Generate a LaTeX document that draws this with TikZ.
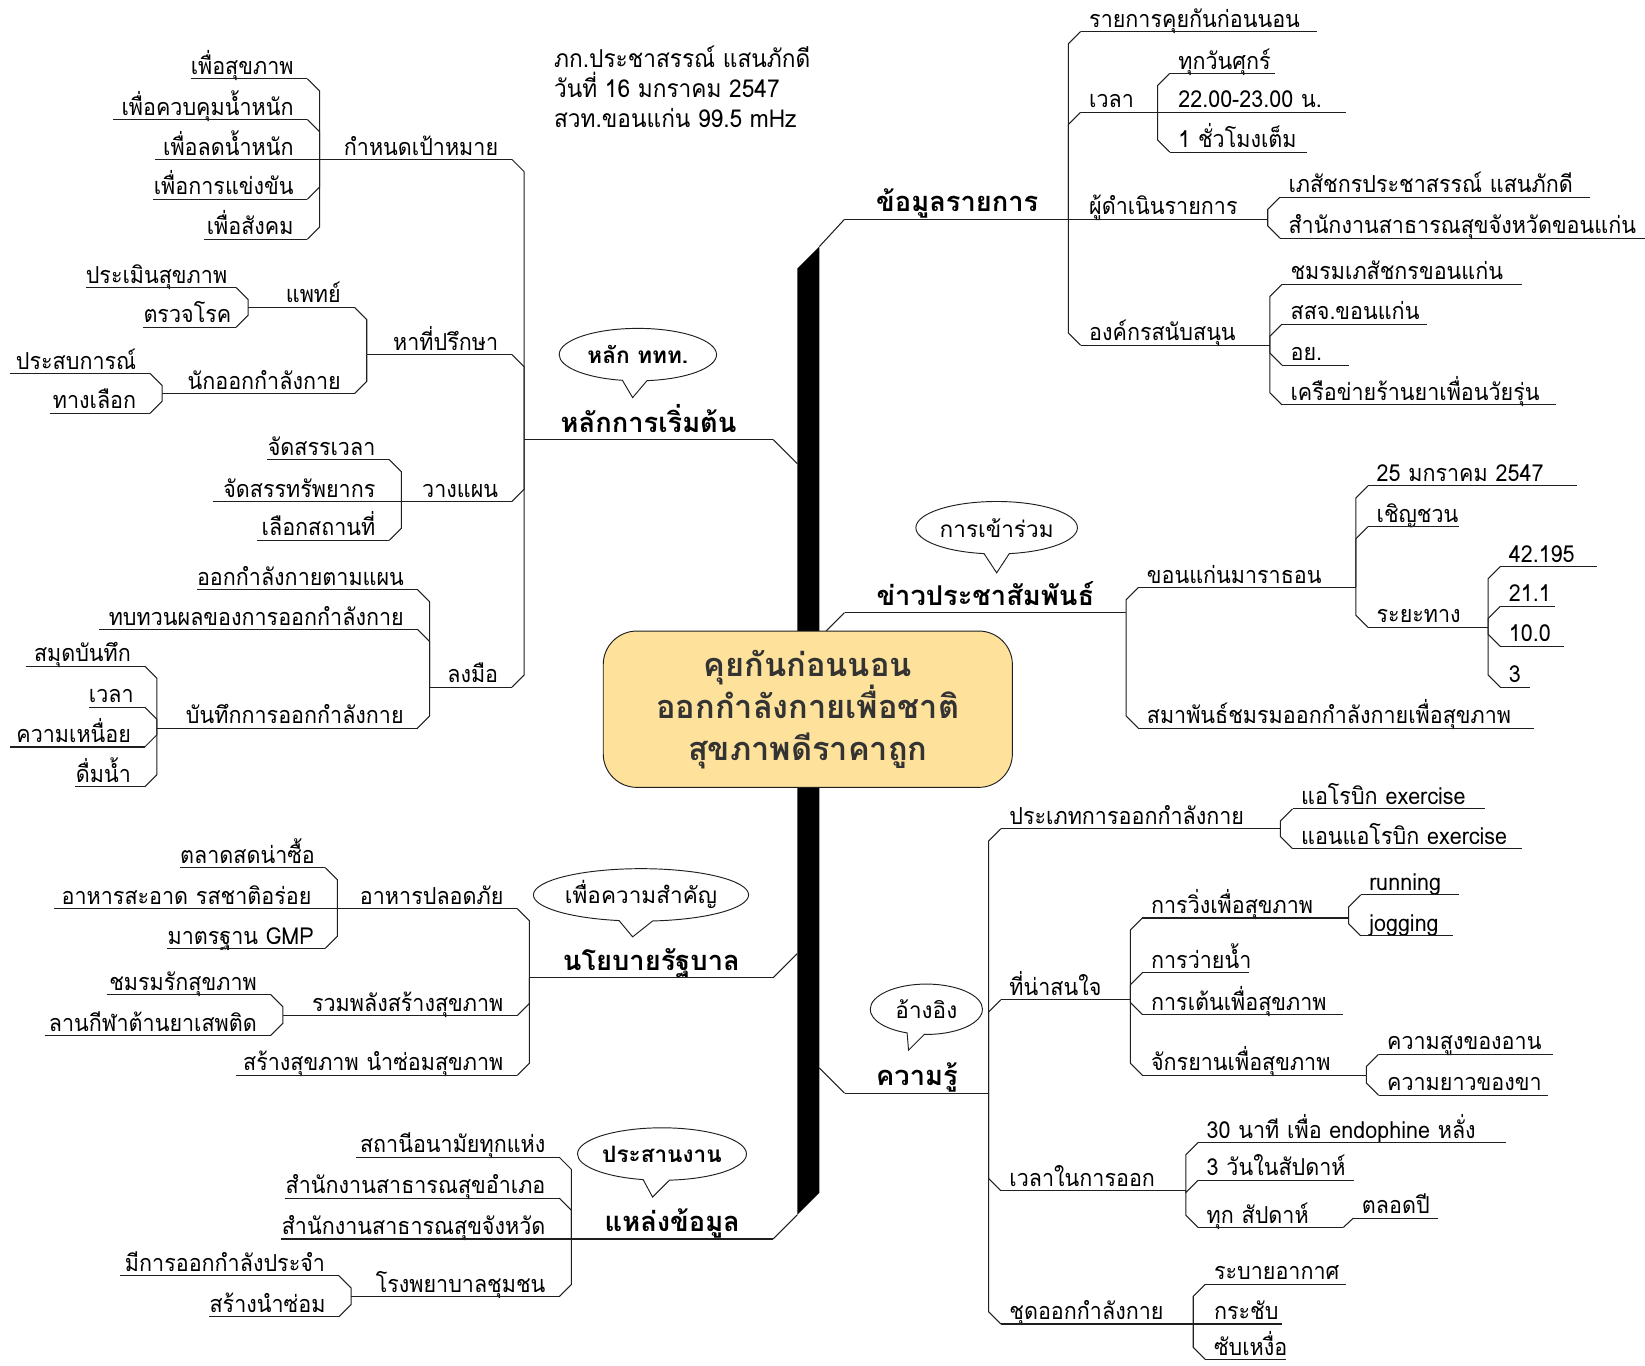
\documentclass[tikz,border=0pt]{standalone}
\usepackage{fontspec}
\usepackage{tikz}
\usetikzlibrary{
    calc,
    shapes.callouts
}
\newfontfamily\thai[Script=Thai, FakeStretch=0.92]{Loma}
\newfontfamily\thaiw[Script=Thai]{Loma}
\definecolor{lineC}{gray}{0.12}
\definecolor{coreFill}{RGB}{254,226,155}
\definecolor{coreText}{RGB}{51,51,51}
\tikzset{
  link/.style    = {draw=lineC, line width=1pt},
  kid/.style     = {font=\thai\fontsize{22.3}{25}\selectfont, inner xsep=0pt,
                    inner ysep=4pt, text depth=0pt, text width=#1pt},
  rk/.style      = {kid=#1, anchor=south west, align=left,
                    execute at begin node={\leavevmode\kern8pt}},
  lk/.style      = {kid=#1, anchor=south east, align=right,
                    execute at end node={\kern13pt}},
  branch/.style  = {font=\thaiw\bfseries\fontsize{26}{30}\selectfont,
                    inner xsep=30pt, inner ysep=7pt, text depth=0pt, align=center,
                    /utils/exec={\pgfmathsetlengthmacro\kidw{#1pt-60pt}},
                    text width=\kidw},
  rmain/.style   = {branch=#1, anchor=south west},
  lmain/.style   = {branch=#1, anchor=south east},
  bubble/.style  = {ellipse callout, draw=lineC, line width=0.9pt, fill=white,
                    inner sep=0pt, callout pointer arc=18,
                    font=\thaiw\fontsize{21.5}{24}\selectfont},
  bbubble/.style = {bubble, font=\thaiw\bfseries\fontsize{21.5}{24}\selectfont},
  core/.style    = {draw=lineC, line width=0.9pt, fill=coreFill, rounded corners=32pt,
                    minimum width=390pt, minimum height=149pt, align=center,
                    text=coreText, font=\thaiw\bfseries\fontsize{31}{40}\selectfont},
  info/.style    = {anchor=north west, align=left, inner sep=0pt,
                    font=\thai\fontsize{23.5}{28.5}\selectfont}
}
% chamfered joint: parent underline end -> child underline start
\newcommand{\rlink}[2]{%
  \draw[link] let \p1=(#1.south east), \p2=(#2.south west) in
    (\p1) -- (\x1,{(\y2)+((((\y1)-(\y2))>1)-(((\y2)-(\y1))>1))*abs((\x2)-(\x1))}) -- (\p2)}
\newcommand{\llink}[2]{%
  \draw[link] let \p1=(#1.south west), \p2=(#2.south east) in
    (\p1) -- (\x1,{(\y2)+((((\y1)-(\y2))>1)-(((\y2)-(\y1))>1))*abs((\x1)-(\x2))}) -- (\p2)}

\begin{document}
\begin{tikzpicture}[x=1pt, y=-1pt]
  \useasboundingbox (0,0) rectangle (1568,1302);

  %% ── Spine ─────────────────────────────────────────────────────
  \coordinate (spTop)   at (781,235);
  \coordinate (spBot)   at (760,1158);
  \coordinate (spHlak)  at (760,442);
  \coordinate (spNayo)  at (760,909);
  \coordinate (spKhao)  at (781,608);
  \coordinate (spKhwam) at (781,1018);
  \fill[black] (760,256) -- (spTop) -- (781,1137) -- (spBot) -- cycle;

  %% ── Header text ───────────────────────────────────────────────
  \node[info] (info) at (528,44)
    {ภก.ประชาสรรณ์ แสนภักดี\\วันที่ 16 มกราคม 2547\\สวท.ขอนแก่น 99.5 mHz};

  %% ── Main branches ─────────────────────────────────────────────
  \node[rmain=213] (kmul)  at (805,209)  {ข้อมูลรายการ};
  \node[rmain=268] (khao)  at (805,584)  {ข่าวประชาสัมพันธ์};
  \node[rmain=137] (khwam) at (805,1042) {ความรู้};
  \node[lmain=237] (hlak)  at (737,419)  {หลักการเริ่มต้น};
  \node[lmain=232] (nayo)  at (737,932)  {นโยบายรัฐบาล};
  \node[lmain=192] (laeng) at (737,1181) {แหล่งข้อมูล};

  %% ── ข้อมูลรายการ ───────────────────────────────────────────────
  \node[rk=225] (prog)  at (1030,30)  {รายการคุยกันก่อนนอน};
  \node[rk=73]  (time)  at (1030,107) {เวลา};
  \node[rk=178] (host)  at (1030,209) {ผู้ดำเนินรายการ};
  \node[rk=180] (spon)  at (1030,329) {องค์กรสนับสนุน};
  \node[rk=100] (time1) at (1115,70)  {ทุกวันศุกร์};
  \node[rk=168] (time2) at (1115,107) {22.00-23.00~น.};
  \node[rk=130] (time3) at (1115,145) {1~ชั่วโมงเต็ม};
  \node[rk=295] (host1) at (1220,188) {เภสัชกรประชาสรรณ์~แสนภักดี};
  \node[rk=348] (host2) at (1220,227) {สำนักงานสาธารณสุขจังหวัดขอนแก่น};
  \node[rk=228] (spon1) at (1222,271) {ชมรมเภสัชกรขอนแก่น};
  \node[rk=138] (spon2) at (1222,309) {สสจ.ขอนแก่น};
  \node[rk=63]  (spon3) at (1222,348) {อย.};
  \node[rk=261] (spon4) at (1222,386) {เครือข่ายร้านยาเพื่อนวัยรุ่น};

  %% ── ข่าวประชาสัมพันธ์ ──────────────────────────────────────────
  \node[rk=207] (mara)  at (1085,560) {ขอนแก่นมาราธอน};
  \node[rk=377] (fed)   at (1085,694) {สมาพันธ์ชมรมออกกำลังกายเพื่อสุขภาพ};
  \node[rk=199] (mara1) at (1304,463) {25~มกราคม~2547};
  \node[rk=86]  (mara2) at (1304,502) {เชิญชวน};
  \node[rk=114] (dist)  at (1304,598) {ระยะทาง};
  \node[rk=92]  (dist1) at (1430,540) {42.195};
  \node[rk=52]  (dist2) at (1430,578) {21.1};
  \node[rk=60]  (dist3) at (1430,616) {10.0};
  \node[rk=28]  (dist4) at (1430,655) {3};

  %% ── ความรู้ ─────────────────────────────────────────────────────
  \node[rk=266] (kind)  at (954,790)   {ประเภทการออกกำลังกาย};
  \node[rk=123] (topic) at (954,953)   {ที่น่าสนใจ};
  \node[rk=176] (dur)   at (954,1135)  {เวลาในการออก};
  \node[rk=183] (suit)  at (954,1262)  {ชุดออกกำลังกาย};
  \node[rk=183] (kind1) at (1232,771)  {แอโรบิก~exercise};
  \node[rk=218] (kind2) at (1232,809)  {แอนแอโรบิก~exercise};
  \node[rk=196] (run)   at (1089,875)  {การวิ่งเพื่อสุขภาพ};
  \node[rk=101] (swim)  at (1089,927)  {การว่ายน้ำ};
  \node[rk=191] (dance) at (1089,967)  {การเต้นเพื่อสุขภาพ};
  \node[rk=213] (bike)  at (1089,1025) {จักรยานเพื่อสุขภาพ};
  \node[rk=93]  (run1)  at (1297,853)  {running};
  \node[rk=88]  (run2)  at (1297,892)  {jogging};
  \node[rk=166] (bike1) at (1314,1005) {ความสูงของอาน};
  \node[rk=161] (bike2) at (1314,1044) {ความยาวของขา};
  \node[rk=293] (dur1)  at (1142,1089) {30~นาที~เพื่อ~endophine~หลั่ง};
  \node[rk=148] (dur2)  at (1142,1125) {3~วันในสัปดาห์};
  \node[rk=138] (dur3)  at (1142,1170) {ทุก~สัปดาห์};
  \node[rk=80]  (dur4)  at (1290,1161) {ตลอดปี};
  \node[rk=134] (suit1) at (1149,1224) {ระบายอากาศ};
  \node[rk=73]  (suit2) at (1149,1262) {กระชับ};
  \node[rk=76]  (suit3) at (1149,1296) {ซับเหงื่อ};

  %% ── หลักการเริ่มต้น ─────────────────────────────────────────────
  \node[lk=183] (goal)   at (488,152) {กำหนดเป้าหมาย};
  \node[lk=138] (adv)    at (488,338) {หาที่ปรึกษา};
  \node[lk=105] (plan)   at (488,478) {วางแผน};
  \node[lk=78]  (act)    at (488,655) {ลงมือ};
  \node[lk=111] (goal1)  at (293,75)  {เพื่อสุขภาพ};
  \node[lk=185] (goal2)  at (293,114) {เพื่อควบคุมน้ำหนัก};
  \node[lk=145] (goal3)  at (293,152) {เพื่อลดน้ำหนัก};
  \node[lk=147] (goal4)  at (293,190) {เพื่อการแข่งขัน};
  \node[lk=98]  (goal5)  at (293,228) {เพื่อสังคม};
  \node[lk=101] (doc)    at (338,293) {แพทย์};
  \node[lk=183] (coach)  at (338,375) {นักออกกำลังกาย};
  \node[lk=143] (doc1)   at (225,274) {ประเมินสุขภาพ};
  \node[lk=88]  (doc2)   at (225,312) {ตรวจโรค};
  \node[lk=133] (coach1) at (143,356) {ประสบการณ์};
  \node[lk=95]  (coach2) at (143,394) {ทางเลือก};
  \node[lk=116] (plan1)  at (371,438) {จัดสรรเวลา};
  \node[lk=168] (plan2)  at (371,478) {จัดสรรทรัพยากร};
  \node[lk=126] (plan3)  at (371,515) {เลือกสถานที่};
  \node[lk=210] (act1)   at (398,562) {ออกกำลังกายตามแผน};
  \node[lk=303] (act2)   at (398,600) {ทบทวนผลของการออกกำลังกาย};
  \node[lk=248] (rec)    at (398,694) {บันทึกการออกกำลังกาย};
  \node[lk=113] (rec1)   at (138,635) {สมุดบันทึก};
  \node[lk=53]  (rec2)   at (138,674) {เวลา};
  \node[lk=128] (rec3)   at (138,712) {ความเหนื่อย};
  \node[lk=66]  (rec4)   at (138,750) {ดื่มน้ำ};

  %% ── นโยบายรัฐบาล ───────────────────────────────────────────────
  \node[lk=171] (food)   at (493,866)  {อาหารปลอดภัย};
  \node[lk=223] (unite)  at (493,968)  {รวมพลังสร้างสุขภาพ};
  \node[lk=268] (build)  at (493,1025) {สร้างสุขภาพ~นำซ่อมสุขภาพ};
  \node[lk=138] (food1)  at (310,827)  {ตลาดสดน่าซื้อ};
  \node[lk=258] (food2)  at (310,866)  {อาหารสะอาด~รสชาติอร่อย};
  \node[lk=150] (food3)  at (310,904)  {มาตรฐาน~GMP};
  \node[lk=156] (unite1) at (258,948)  {ชมรมรักสุขภาพ};
  \node[lk=215] (unite2) at (258,987)  {ลานกีฬาต้านยาเสพติด};

  %% ── แหล่งข้อมูล ────────────────────────────────────────────────
  \node[lk=193] (src1)  at (533,1103) {สถานีอนามัยทุกแห่ง};
  \node[lk=261] (src2)  at (533,1142) {สำนักงานสาธารณสุขอำเภอ};
  \node[lk=265] (src3)  at (533,1181) {สำนักงานสาธารณสุขจังหวัด};
  \node[lk=198] (hosp)  at (533,1236) {โรงพยาบาลชุมชน};
  \node[lk=208] (hosp1) at (323,1216) {มีการออกกำลังประจำ};
  \node[lk=123] (hosp2) at (323,1255) {สร้างนำซ่อม};

  %% ── Underlines ────────────────────────────────────────────────
  \foreach \n in {kmul,khao,khwam,hlak,nayo,laeng,
                  prog,time,host,spon,time1,time2,time3,host1,host2,
                  spon1,spon2,spon3,spon4,mara,fed,mara1,mara2,dist,
                  dist1,dist2,dist3,dist4,kind,topic,dur,suit,kind1,kind2,
                  run,swim,dance,bike,run1,run2,bike1,bike2,
                  dur1,dur2,dur3,dur4,suit1,suit2,suit3,
                  goal,adv,plan,act,goal1,goal2,goal3,goal4,goal5,
                  doc,coach,doc1,doc2,coach1,coach2,plan1,plan2,plan3,
                  act1,act2,rec,rec1,rec2,rec3,rec4,
                  food,unite,build,food1,food2,food3,unite1,unite2,
                  src1,src2,src3,hosp,hosp1,hosp2}
    \draw[link] (\n.south west) -- (\n.south east);

  %% ── Spine joints ──────────────────────────────────────────────
  \draw[link] (kmul.south west)  -- (spTop);
  \draw[link] (khao.south west)  -- (spKhao);
  \draw[link] (khwam.south west) -- (spKhwam);
  \draw[link] (hlak.south east)  -- (spHlak);
  \draw[link] (nayo.south east)  -- (spNayo);
  \draw[link] (laeng.south east) -- (spBot);

  %% ── Right joints ──────────────────────────────────────────────
  \foreach \c in {prog,time,host,spon}       {\rlink{kmul}{\c};}
  \foreach \c in {time1,time2,time3}         {\rlink{time}{\c};}
  \foreach \c in {host1,host2}               {\rlink{host}{\c};}
  \foreach \c in {spon1,spon2,spon3,spon4}   {\rlink{spon}{\c};}
  \foreach \c in {mara,fed}                  {\rlink{khao}{\c};}
  \foreach \c in {mara1,mara2,dist}          {\rlink{mara}{\c};}
  \foreach \c in {dist1,dist2,dist3,dist4}   {\rlink{dist}{\c};}
  \foreach \c in {kind,topic,dur,suit}       {\rlink{khwam}{\c};}
  \foreach \c in {kind1,kind2}               {\rlink{kind}{\c};}
  \foreach \c in {run,swim,dance,bike}       {\rlink{topic}{\c};}
  \foreach \c in {run1,run2}                 {\rlink{run}{\c};}
  \foreach \c in {bike1,bike2}               {\rlink{bike}{\c};}
  \foreach \c in {dur1,dur2,dur3}            {\rlink{dur}{\c};}
  \foreach \c in {suit1,suit2,suit3}         {\rlink{suit}{\c};}
  \draw[link] (dur3.south east) -- (dur4.south west);

  %% ── Left joints ───────────────────────────────────────────────
  \foreach \c in {goal,adv,plan,act}         {\llink{hlak}{\c};}
  \foreach \c in {goal1,goal2,goal3,goal4,goal5} {\llink{goal}{\c};}
  \foreach \c in {doc,coach}                 {\llink{adv}{\c};}
  \foreach \c in {doc1,doc2}                 {\llink{doc}{\c};}
  \foreach \c in {coach1,coach2}             {\llink{coach}{\c};}
  \foreach \c in {plan1,plan2,plan3}         {\llink{plan}{\c};}
  \foreach \c in {act1,act2,rec}             {\llink{act}{\c};}
  \foreach \c in {rec1,rec2,rec3,rec4}       {\llink{rec}{\c};}
  \foreach \c in {food,unite,build}          {\llink{nayo}{\c};}
  \foreach \c in {food1,food2,food3}         {\llink{food}{\c};}
  \foreach \c in {unite1,unite2}             {\llink{unite}{\c};}
  \foreach \c in {src1,src2,src3,hosp}       {\llink{laeng}{\c};}
  \foreach \c in {hosp1,hosp2}               {\llink{hosp}{\c};}

  %% ── Callouts ──────────────────────────────────────────────────
  \coordinate (tipA) at (603,379);
  \coordinate (tipB) at (950,546);
  \coordinate (tipC) at (603,893);
  \coordinate (tipD) at (866,1001);
  \coordinate (tipE) at (622,1141);
  \node[bbubble, minimum width=150pt, minimum height=50pt,
        callout absolute pointer={(tipA)}] (bubA) at (608,338) {หลัก ททท.};
  \node[bubble, minimum width=154pt, minimum height=50pt,
        callout absolute pointer={(tipB)}] (bubB) at (950,503) {การเข้าร่วม};
  \node[bubble, minimum width=193pt, minimum height=50pt,
        callout absolute pointer={(tipC)}] (bubC) at (611,853) {เพื่อความสำคัญ};
  \node[bubble, minimum width=107pt, minimum height=48pt,
        callout absolute pointer={(tipD)}] (bubD) at (883,962) {อ้างอิง};
  \node[bbubble, minimum width=161pt, minimum height=50pt,
        callout absolute pointer={(tipE)}] (bubE) at (631,1100) {ประสานงาน};

  %% ── Centre ────────────────────────────────────────────────────
  \node[core] (centre) at (770,676)
    {คุยกันก่อนนอน\\ออกกำลังกายเพื่อชาติ\\สุขภาพดีราคาถูก};

\end{tikzpicture}
\end{document}
